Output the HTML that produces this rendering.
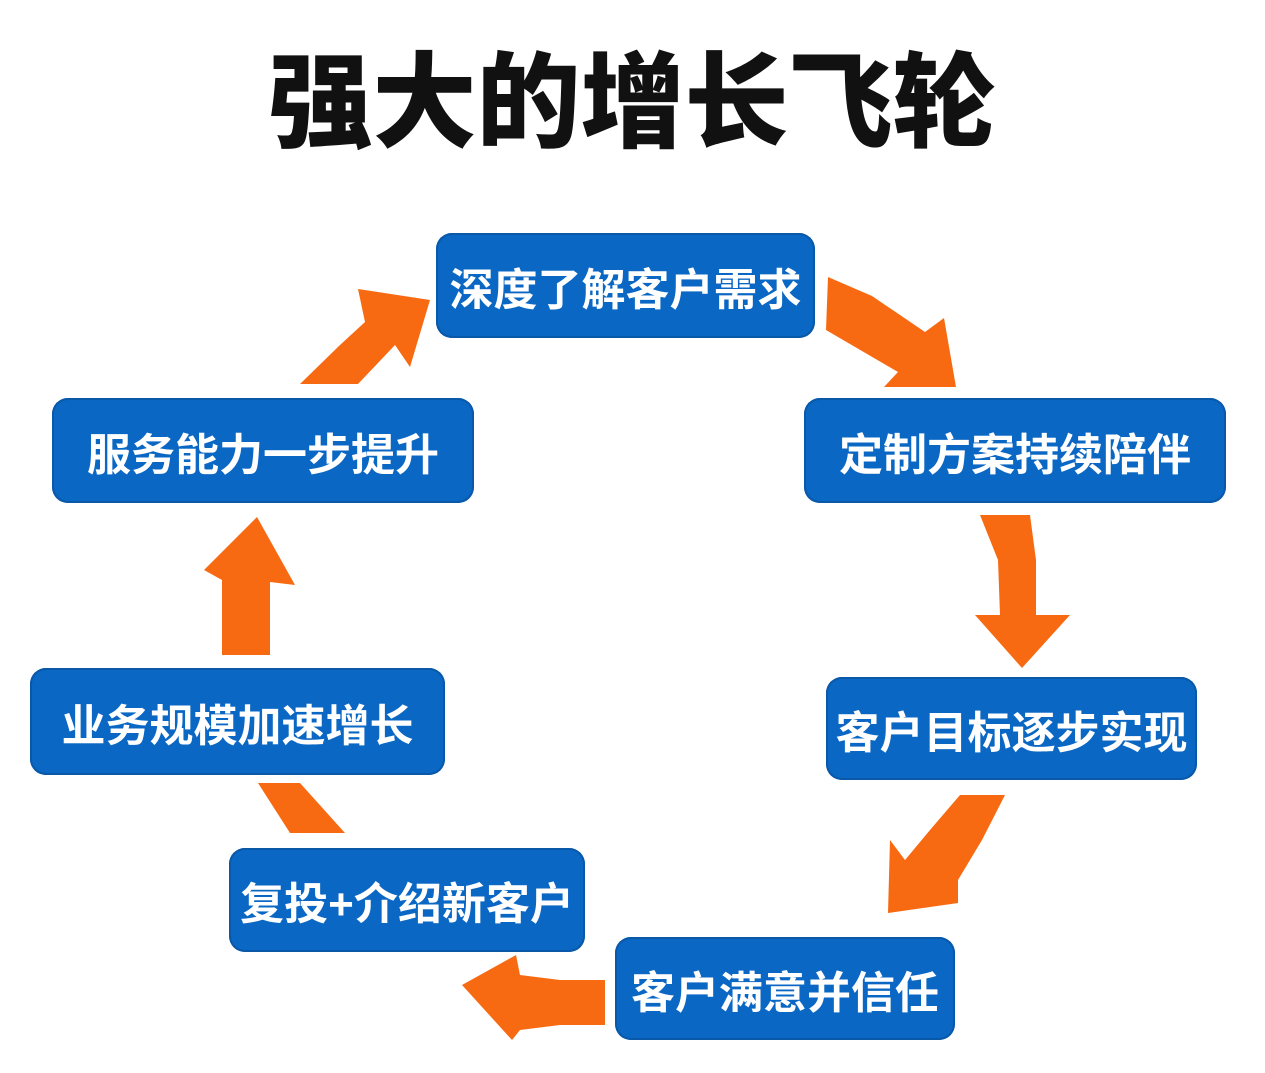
<!DOCTYPE html>
<html><head><meta charset="utf-8"><style>
body{margin:0;width:1265px;height:1073px;background:#fff;position:relative;overflow:hidden;font-family:"Liberation Sans","Noto Sans CJK SC",sans-serif}
.t{position:absolute;left:0;width:1265px;top:44px;text-align:center;font-size:104px;font-weight:900;color:#111;letter-spacing:0px;line-height:120px}
.b{position:absolute;background:#0b67c4;border-radius:16px;color:#fff;font-size:44px;font-weight:700;display:flex;align-items:center;justify-content:center;white-space:nowrap;box-shadow:0 0 0 2px #0a58a8 inset}
svg{position:absolute;left:0;top:0}
</style></head><body>
<div class="t">强大的增长飞轮</div>
<svg width="1265" height="1073"><g fill="#f76a12">
<polygon points="828,277 872,296 925,332 944,318 956,387 884,387 898,372 826,330"/>
<polygon points="980,515 1030,515 1036,560 1036,615 1070,615 1022,668 975,615 1000,615 998,560"/>
<polygon points="960,795 1005,795 982,840 958,880 958,903 888,913 890,840 905,860 930,830"/>
<polygon points="605,980 605,1025 560,1025 520,1030 512,1040 462,985 516,955 520,975 560,980"/>
<polygon points="258,783 300,783 345,833 290,833"/>
<polygon points="222,655 222,580 204,570 257,517 295,585 270,582 270,655"/>
<polygon points="300,384 340,345 365,322 358,289 430,300 410,367 395,345 358,384"/>
</g></svg>
<div class="b" style="left:436px;top:233px;width:379px;height:105px">深度了解客户需求</div>
<div class="b" style="left:804px;top:398px;width:422px;height:105px">定制方案持续陪伴</div>
<div class="b" style="left:826px;top:677px;width:371px;height:103px">客户目标逐步实现</div>
<div class="b" style="left:615px;top:937px;width:340px;height:103px">客户满意并信任</div>
<div class="b" style="left:229px;top:848px;width:356px;height:104px">复投+介绍新客户</div>
<div class="b" style="left:30px;top:668px;width:415px;height:107px">业务规模加速增长</div>
<div class="b" style="left:52px;top:398px;width:422px;height:105px">服务能力一步提升</div>
</body></html>
